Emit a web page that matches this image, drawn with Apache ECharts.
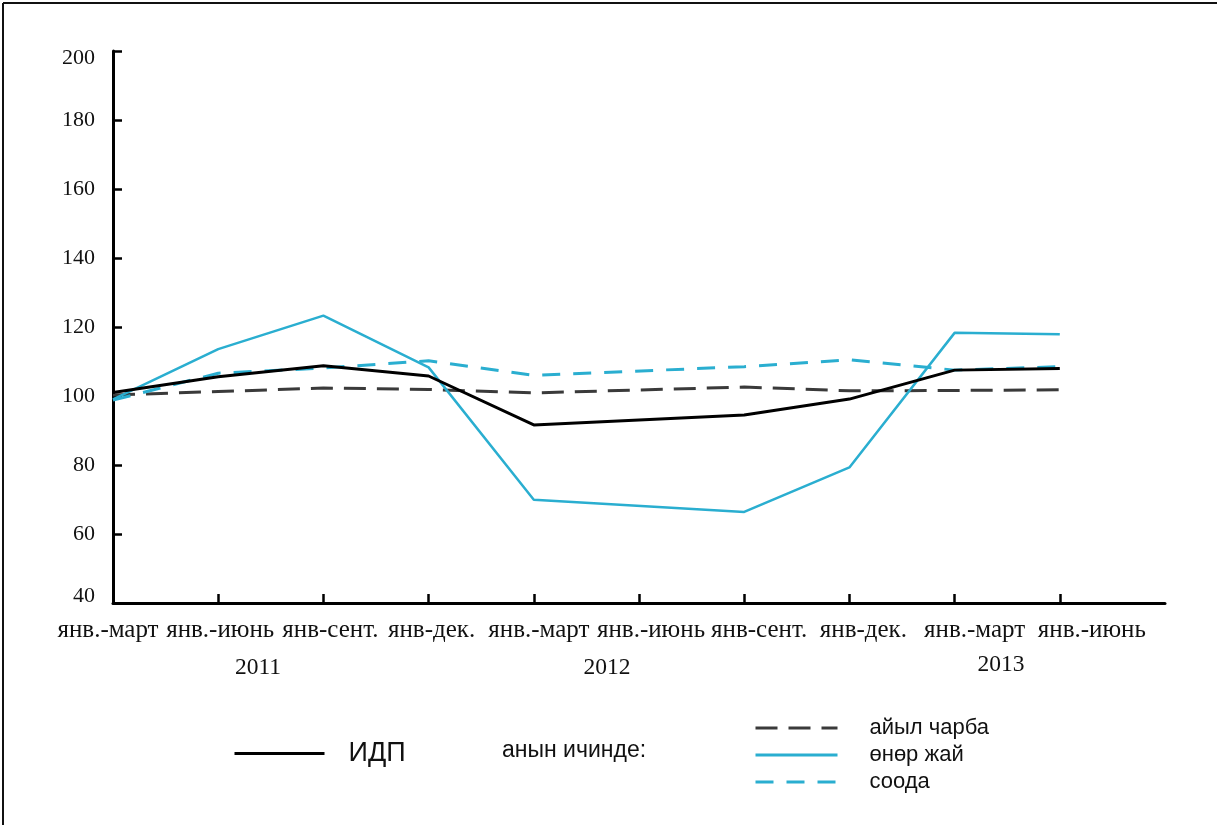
<!DOCTYPE html>
<html>
<head>
<meta charset="utf-8">
<script src="https://cdn.jsdelivr.net/npm/echarts@6/dist/echarts.min.js"></script>
<style>
html,body{margin:0;padding:0;background:#fff;}
#chart{width:1217px;height:825px;}
</style>
</head>
<body>
<div id="chart"></div>
<script>
// ---- data ----
const categories = ['янв.-март','янв.-июнь','янв-сент.','янв-дек.','янв.-март','янв.-июнь','янв-сент.','янв-дек.','янв.-март','янв.-июнь',''];
const years = ['2011','2012','2013'];
const yTicks = [40, 60, 80, 100, 120, 140, 160, 180, 200];
const gdp      = [101.0, 105.6, 108.8, 105.8, 91.6, null, 94.5, 99.1, 107.5, 108.0];
const agri     = [100.3, 101.3, 102.3, 101.9, 100.9, null, 102.6, 101.5, 101.6, 101.8];
const industry = [99.0, 113.6, 123.3, 108.3, 69.9, null, 66.4, 79.3, 118.3, 117.9];
const trade    = [98.8, 106.6, 108.1, 110.2, 106.0, null, 108.5, 110.5, 107.5, 108.5];
const seriesNames = ['ИДП', 'айыл чарба', 'өнөр жай', 'соода'];
const legendNote = 'анын ичинде:';

// ---- style ----
const CYAN = '#2aaed0';
const DARK = '#3a3a3a';
const SERIF = '"Liberation Serif","Times New Roman",serif';
const SANS = '"Liberation Sans Narrow","Arial Narrow","Liberation Sans",sans-serif';
const labelShift = [-5, 2, 7, 3, 5, 12, 15, 14, 20, 32, 0];

const rich = {};
labelShift.forEach((d, i) => {
  rich['l' + i] = {
    fontFamily: SERIF, fontSize: 25, color: '#111',
    padding: d >= 0 ? [0, 0, 0, 2 * d] : [0, -2 * d, 0, 0]
  };
});
const yRich = {
  top: { fontFamily: SERIF, fontSize: 22, color: '#111', padding: [14, 0, 0, 0] },
  bot: { fontFamily: SERIF, fontSize: 22, color: '#111', padding: [0, 0, 14, 0] },
  mid: { fontFamily: SERIF, fontSize: 22, color: '#111' }
};

const chart = echarts.init(document.getElementById('chart'));
chart.setOption({
  animation: false,
  backgroundColor: '#fff',
  grid: { left: 113, right: 52, top: 51, bottom: 222, containLabel: false },
  xAxis: {
    type: 'category',
    data: categories,
    boundaryGap: false,
    axisLine: { lineStyle: { color: '#000', width: 3 } },
    axisTick: { inside: true, length: 9, lineStyle: { color: '#000', width: 2.5 },
      interval: (i) => i > 0 && i < categories.length - 1 },
    axisLabel: { interval: 0, margin: 15,
      formatter: (v, i) => v ? '{l' + i + '|' + v + '}' : '', rich: rich },
    splitLine: { show: false }
  },
  yAxis: {
    type: 'value',
    min: yTicks[0], max: yTicks[yTicks.length - 1], interval: 20,
    axisLine: { show: true, lineStyle: { color: '#000', width: 3 } },
    axisTick: { show: true, inside: true, length: 9, lineStyle: { color: '#000', width: 2.5 } },
    axisLabel: { margin: 18,
      formatter: (v) => v === yTicks[yTicks.length - 1] ? '{top|' + v + '}' : (v === yTicks[0] ? '{bot|' + v + '}' : '{mid|' + v + '}'),
      rich: yRich },
    splitLine: { show: false }
  },
  legend: [
    {
      data: [seriesNames[0]],
      left: 233, top: 740, padding: 0,
      itemWidth: 90, itemHeight: 14,
      itemStyle: { opacity: 0 },
      lineStyle: { width: 3 },
      textStyle: { fontFamily: SANS, fontSize: 27, color: '#111', padding: [0, 0, 0, 19] }
    },
    {
      data: seriesNames.slice(1),
      orient: 'vertical',
      left: 754, top: 717, padding: 0,
      itemWidth: 82, itemHeight: 14, itemGap: 5,
      itemStyle: { opacity: 0 },
      lineStyle: { width: 3 },
      textStyle: { fontFamily: SANS, fontSize: 22, color: '#111', padding: [0, 0, 0, 27] }
    }
  ],
  graphic: [
    { type: 'text', left: 502, top: 739, style: { text: legendNote, font: '23px ' + SANS, fill: '#111' } },
    { type: 'text', x: 258, y: 668, style: { text: years[0], font: '23.5px ' + SERIF, fill: '#111', align: 'center', verticalAlign: 'middle' } },
    { type: 'text', x: 607, y: 668, style: { text: years[1], font: '23.5px ' + SERIF, fill: '#111', align: 'center', verticalAlign: 'middle' } },
    { type: 'text', x: 1001, y: 665, style: { text: years[2], font: '23.5px ' + SERIF, fill: '#111', align: 'center', verticalAlign: 'middle' } },
    { type: 'line', shape: { x1: 3, y1: 3, x2: 1217, y2: 3 }, style: { stroke: '#111', lineWidth: 2 } },
    { type: 'line', shape: { x1: 3, y1: 3, x2: 3, y2: 825 }, style: { stroke: '#111', lineWidth: 2 } }
  ],
  series: [
    { name: seriesNames[0], type: 'line', data: gdp, connectNulls: true, symbol: 'none',
      lineStyle: { color: '#000', width: 3 }, itemStyle: { color: '#000' }, z: 5 },
    { name: seriesNames[1], type: 'line', data: agri, connectNulls: true, symbol: 'none',
      lineStyle: { color: DARK, width: 3, type: [22, 11] }, itemStyle: { color: DARK } },
    { name: seriesNames[2], type: 'line', data: industry, connectNulls: true, symbol: 'none',
      lineStyle: { color: CYAN, width: 2.5 }, itemStyle: { color: CYAN } },
    { name: seriesNames[3], type: 'line', data: trade, connectNulls: true, symbol: 'none',
      lineStyle: { color: CYAN, width: 3, type: [18, 13] }, itemStyle: { color: CYAN } }
  ]
});
</script>
</body>
</html>
